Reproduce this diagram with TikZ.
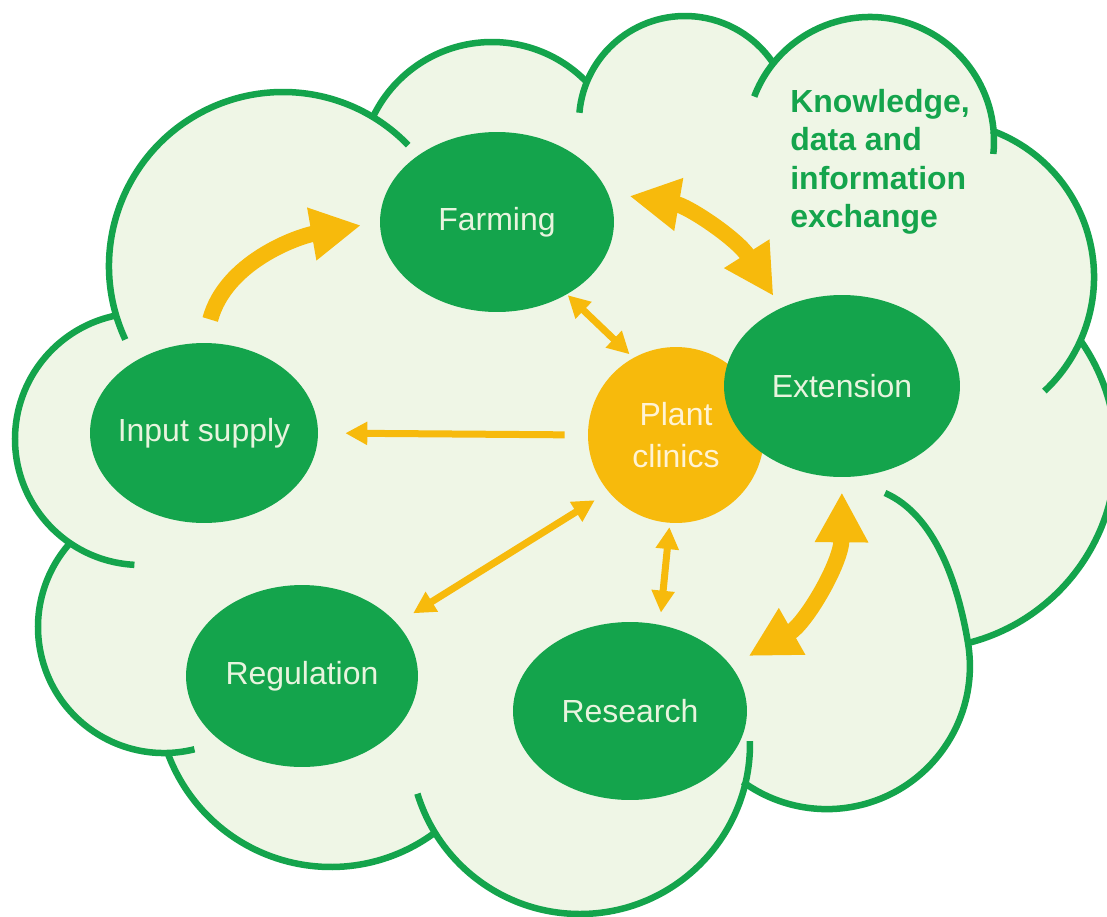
\documentclass[tikz,border=0pt]{standalone}
\usepackage{fontspec}
\setmainfont{Liberation Sans}
\usetikzlibrary{shapes.geometric,arrows.meta}
\definecolor{leafgreen}{RGB}{20,164,76}
\definecolor{cloudfill}{RGB}{239,246,230}
\definecolor{clinicorange}{RGB}{247,186,12}
\definecolor{labelcream}{RGB}{232,244,222}
\definecolor{cliniccream}{RGB}{255,243,212}
\tikzset{
oval/.style={ellipse, fill=leafgreen, inner sep=0pt, text=labelcream, font=\fontsize{18.2}{21.8}\selectfont},
cloudline/.style={draw=leafgreen, line width=0.13cm, line join=round},
bigarrow/.style={draw=clinicorange, line width=0.32cm, -{Triangle[length=1cm,width=1cm]}},
bigboth/.style={draw=clinicorange, line width=0.32cm, {Triangle[length=1cm,width=1cm]}-{Triangle[length=1cm,width=1cm]}},
thinarrow/.style={draw=clinicorange, line width=0.14cm, -{Triangle[length=0.44cm,width=0.44cm]}},
thinboth/.style={draw=clinicorange, line width=0.14cm, {Triangle[length=0.44cm,width=0.44cm]}-{Triangle[length=0.44cm,width=0.44cm]}}
}
\begin{document}
\begin{tikzpicture}[x=0.02cm,y=-0.02cm]
\useasboundingbox (0,0) rectangle (1107,917);
\fill[white] (0,0) rectangle (1107,917);
\fill[cloudfill] (70,543) -- (116,315) -- (373,118) -- (587,82) -- (773,63) -- (993,127) -- (1080,340) -- (968,643) -- (743,782) -- (433,833) -- (168,753) -- cycle;
\foreach \x/\y/\r in {141/439/126, 283/266/174, 492/174/132, 685/122/106, 870/141/124, 938/277/156, 920/453/196, 827/666/143, 580/744/170, 331/693/174, 164/627/126}
{
\fill[cloudfill] (\x,\y) circle[radius=\r];
}
\foreach \x/\y/\r/\a/\b in {141/439/126/93/259, 283/266/174/155/316, 492/174/132/205/316, 685/122/106/185/326, 870/141/124/201/366, 938/277/156/290/407, 920/453/196/-35/76, 580/744/170/-1/163, 331/693/174/54/160, 164/627/126/76/222}
{
\draw[cloudline] (\x,\y) ++(\a:\r) arc[start angle=\a, end angle=\b, radius=\r];
}
\draw[cloudline] (885,493) .. controls (935,515) and (958,583) .. (968,643) arc[start angle=-9.3, end angle=126, radius=143];
\node[anchor=north west, inner sep=0pt, align=left, text=leafgreen, font=\bfseries\fontsize{18.2}{21.8}\selectfont] (exchange) at (790,89) {Knowledge,\\data and\\information\\exchange};
\node[oval, minimum width=4.68cm, minimum height=3.6cm] (farming) at (497,222) {\makebox[0pt]{Farming}};
\node[oval, minimum width=4.56cm, minimum height=3.6cm] (input) at (204,433) {\makebox[0pt]{Input supply}};
\node[oval, minimum width=4.64cm, minimum height=3.64cm] (regulation) at (302,676) {\makebox[0pt]{Regulation}};
\node[oval, minimum width=4.68cm, minimum height=3.56cm] (research) at (630,711) {\makebox[0pt]{Research}};
\node[circle, fill=clinicorange, minimum size=3.52cm, inner sep=0pt, text=cliniccream, align=center, font=\fontsize{18.2}{23.8}\selectfont] (clinic) at (676,435) {Plant\\clinics};
\node[oval, minimum width=4.72cm, minimum height=3.64cm] (extension) at (842,386) {\makebox[0pt]{Extension}};
\draw[bigarrow, shorten <=0.48cm, shorten >=0.38cm] (input.north) to[out=75, in=190] (farming.west);
\draw[bigboth, shorten <=0.44cm, shorten >=0.28cm] (farming.15) to[bend left=24] (extension.128);
\draw[bigboth, shorten <=0.3cm, shorten >=0.4cm] (extension.south) to[bend left=30] (research.24);
\draw[thinboth, shorten <=0.02cm, shorten >=0.1cm] (farming.314) -- (clinic.119);
\draw[thinarrow, shorten <=0.46cm, shorten >=0.54cm] (clinic.west) -- (input.east);
\draw[thinboth, shorten <=0.32cm, shorten >=0.38cm] (clinic.220) -- (regulation.29);
\draw[thinboth, shorten <=0.08cm, shorten >=0.24cm] (clinic.266) -- (research.71);
\end{tikzpicture}
\end{document}
